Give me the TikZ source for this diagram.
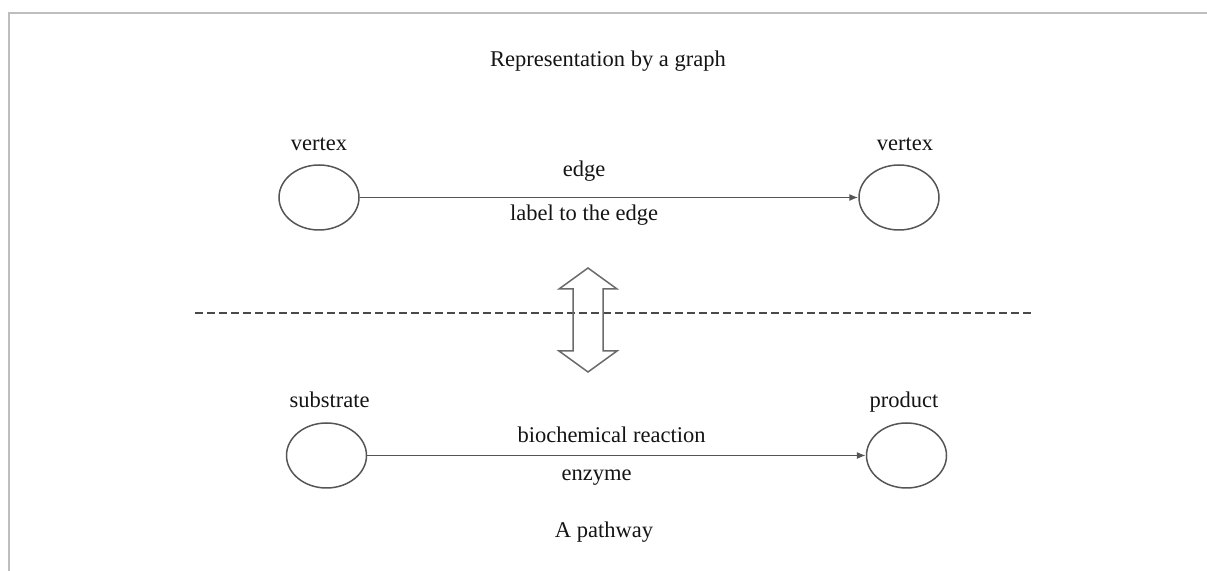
\documentclass[tikz,border=0pt]{standalone}
\usepackage{fontspec}
\setmainfont{Liberation Serif}
\usepackage{tikz}
\usetikzlibrary{arrows.meta,positioning,shapes.geometric}
\definecolor{ink}{HTML}{141414}
\definecolor{rimgray}{HTML}{555555}
\definecolor{dashgray}{HTML}{4A4A4A}
\definecolor{shaftgray}{HTML}{6A6A6A}
\definecolor{framegray}{HTML}{BEBEBE}
\tikzset{
  vtxnode/.style={draw=rimgray,ellipse,line width=0.75pt,minimum width=40pt,
    minimum height=32.5pt,inner sep=0pt},
  lbltext/.style={text=ink,font=\fontsize{11.25}{13}\selectfont},
  edgearrow/.style={-{Latex[length=4.5pt,width=3.6pt]},draw=rimgray,line width=0.75pt},
  sepline/.style={draw=dashgray,line width=0.7pt,dash pattern=on 4pt off 2pt},
  dblarrow/.style={draw=shaftgray,line width=0.75pt,line join=miter}
}

\begin{document}
\begin{tikzpicture}[x=0.5pt,y=-0.5pt,node distance=3.5pt]
  \useasboundingbox (0,0) rectangle (1207,571);
  \draw[framegray,line width=1pt] (9,571)--(9,13)--(1207,13);
  \node[lbltext,anchor=base] (title) at (608,67) {Representation by a graph};
  % graph side
  \node[vtxnode] (v1) at (319,197.5) {};
  \node[vtxnode] (v2) at (899,197.5) {};
  \node[lbltext,above=3.25pt of v1] (v1lbl) {vertex};
  \node[lbltext,above=3.25pt of v2,xshift=3pt] (v2lbl) {vertex};
  \draw[edgearrow] (v1)--(v2)
    node[lbltext,pos=0.45,above=4.3pt] (elbl) {edge}
    node[lbltext,pos=0.45,below=0pt] (elbl2) {label to the edge};
  % correspondence
  \draw[sepline] (195,313)--(1032,313);
  \draw[dblarrow] (588,268)--(617,289)--(603,289)--(603,351)--(617,351)--(588,372)
    --(559,351)--(573,351)--(573,289)--(559,289)--cycle;
  % pathway side
  \node[vtxnode] (sub) at (326.5,455.5) {};
  \node[vtxnode] (prod) at (906.5,455.5) {};
  \node[lbltext,above=3.75pt of sub,xshift=1.5pt] (sublbl) {substrate};
  \node[lbltext,above=1.3pt of prod,xshift=-1.25pt] (prodlbl) {product};
  \draw[edgearrow] (sub)--(prod)
    node[lbltext,pos=0.49,above=2.75pt] (rlbl) {biochemical reaction}
    node[lbltext,pos=0.46,below=3.5pt] (rlbl2) {enzyme};
  \node[lbltext,anchor=base] (pathway) at (604,538) {A pathway};
\end{tikzpicture}
\end{document}
